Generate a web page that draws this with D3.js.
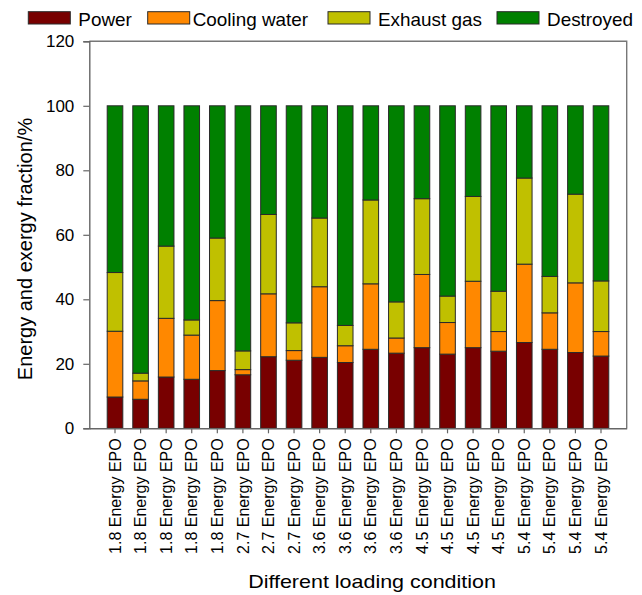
<!DOCTYPE html>
<html>
<head>
<meta charset="utf-8">
<script src="https://cdn.jsdelivr.net/npm/d3@7"></script>
<style>
  html, body { margin: 0; padding: 0; background: #fff; }
  svg { display: block; font-family: "Liberation Sans", Arial, Helvetica, sans-serif; }
</style>
</head>
<body>
<svg id="chart" width="642" height="595"></svg>
<script>
// ---- data ----
const categories = [
  "1.8 Energy EPO", "1.8 Energy EPO", "1.8 Energy EPO", "1.8 Energy EPO", "1.8 Energy EPO",
  "2.7 Energy EPO", "2.7 Energy EPO", "2.7 Energy EPO",
  "3.6 Energy EPO", "3.6 Energy EPO", "3.6 Energy EPO", "3.6 Energy EPO",
  "4.5 Energy EPO", "4.5 Energy EPO", "4.5 Energy EPO", "4.5 Energy EPO",
  "5.4 Energy EPO", "5.4 Energy EPO", "5.4 Energy EPO", "5.4 Energy EPO"
];
const seriesNames = ["Power", "Cooling water", "Exhaust gas", "Destroyed"];
const power     = [9.7, 9.0, 15.9, 15.2, 17.9, 16.6, 22.2, 21.1, 22.0, 20.4, 24.5, 23.3, 25.0, 23.0, 25.0, 23.9, 26.6, 24.5, 23.5, 22.4];
const cooling   = [20.4, 5.7, 18.2, 13.7, 21.7, 1.6, 19.5, 3.0, 21.9, 5.2, 20.3, 4.7, 22.7, 9.8, 20.6, 6.1, 24.3, 11.3, 21.6, 7.6];
const exhaust   = [18.2, 2.4, 22.4, 4.7, 19.4, 5.8, 24.6, 8.6, 21.3, 6.3, 26.0, 11.2, 23.5, 8.2, 26.3, 12.5, 26.7, 11.3, 27.5, 15.7];
const destroyed = [51.7, 82.9, 43.5, 66.4, 41.0, 76.0, 33.7, 67.3, 34.8, 68.1, 29.2, 60.8, 28.8, 59.0, 28.1, 57.5, 22.4, 52.9, 27.4, 54.3];
const yTicks = [0, 20, 40, 60, 80, 100, 120];
const colors = ["#780000", "#ff8800", "#c0c000", "#008000"];
const yTitle = "Energy and exergy fraction/%";
const xTitle = "Different loading condition";

// ---- layout ----
const svg = d3.select("#chart");
const mLeft = 89.3, mRight = 626.7, mTop = 41.3, mBottom = 428.3;

const rows = categories.map((c, i) => ({
  idx: i, cat: c,
  "Power": power[i], "Cooling water": cooling[i], "Exhaust gas": exhaust[i], "Destroyed": destroyed[i]
}));

const x = d3.scaleBand().domain(d3.range(categories.length)).range([mLeft, mRight])
  .paddingInner(0.39).paddingOuter(0.7);
const y = d3.scaleLinear().domain([0, 120]).range([mBottom, mTop]);
const color = d3.scaleOrdinal().domain(seriesNames).range(colors);

const stacked = d3.stack().keys(seriesNames)(rows);

// frame (top & right)
svg.append("path")
  .attr("d", `M${mLeft},${mTop}H${mRight}V${mBottom}`)
  .attr("fill", "none").attr("stroke", "#777").attr("stroke-width", 1.4);

// bars
svg.append("g").selectAll("g").data(stacked).join("g")
  .attr("fill", d => color(d.key))
  .selectAll("rect").data(d => d).join("rect")
  .attr("x", (d, i) => x(i))
  .attr("width", x.bandwidth())
  .attr("y", d => y(d[1]))
  .attr("height", d => y(d[0]) - y(d[1]))
  .attr("stroke", "#2a2a2a").attr("stroke-width", 1);

// y axis
const yAxis = svg.append("g").attr("transform", `translate(${mLeft},0)`)
  .call(d3.axisLeft(y).tickValues(yTicks).tickSize(6).tickPadding(9).tickFormat(d3.format("d")));
yAxis.select(".domain").attr("stroke", "#666").attr("stroke-width", 1.4);
yAxis.selectAll(".tick line").attr("stroke", "#666").attr("stroke-width", 1.2);
yAxis.selectAll(".tick text").attr("fill", "#000").style("font-size", "17px");

// x axis
const xAxis = svg.append("g").attr("transform", `translate(0,${mBottom})`)
  .call(d3.axisBottom(x).tickSize(5).tickSizeOuter(0).tickFormat(i => categories[i]));
xAxis.select(".domain").attr("stroke", "#666").attr("stroke-width", 1.4);
xAxis.selectAll(".tick line").attr("stroke", "#666").attr("stroke-width", 1.2);
xAxis.selectAll(".tick text")
  .attr("fill", "#000").style("font-size", "16px")
  .attr("transform", "rotate(-90)")
  .attr("text-anchor", "end")
  .attr("x", -10).attr("y", 0).attr("dy", "0.35em");

// axis titles
svg.append("text")
  .attr("transform", "translate(32,249) rotate(-90)")
  .attr("text-anchor", "middle")
  .style("font-size", "20px").attr("fill", "#000")
  .text(yTitle);
svg.append("text")
  .attr("transform", "translate(372,588) scale(1.18,1)")
  .attr("text-anchor", "middle")
  .style("font-size", "18.2px").attr("fill", "#000")
  .text(xTitle);

// legend
const legendX = [28.3, 147.7, 328, 497];
const lg = svg.append("g").selectAll("g").data(seriesNames).join("g")
  .attr("transform", (d, i) => `translate(${legendX[i]},0)`);
lg.append("rect")
  .attr("x", 0).attr("y", 11.7).attr("width", 42).attr("height", 12.3)
  .attr("fill", d => color(d)).attr("stroke", "#2a2a2a").attr("stroke-width", 1);
lg.append("text")
  .attr("transform", (d, i) => `translate(${i === 1 ? 45 : 50},26) scale(1.05,1)`)
  .style("font-size", "18px").attr("fill", "#000")
  .text(d => d);
</script>
</body>
</html>
